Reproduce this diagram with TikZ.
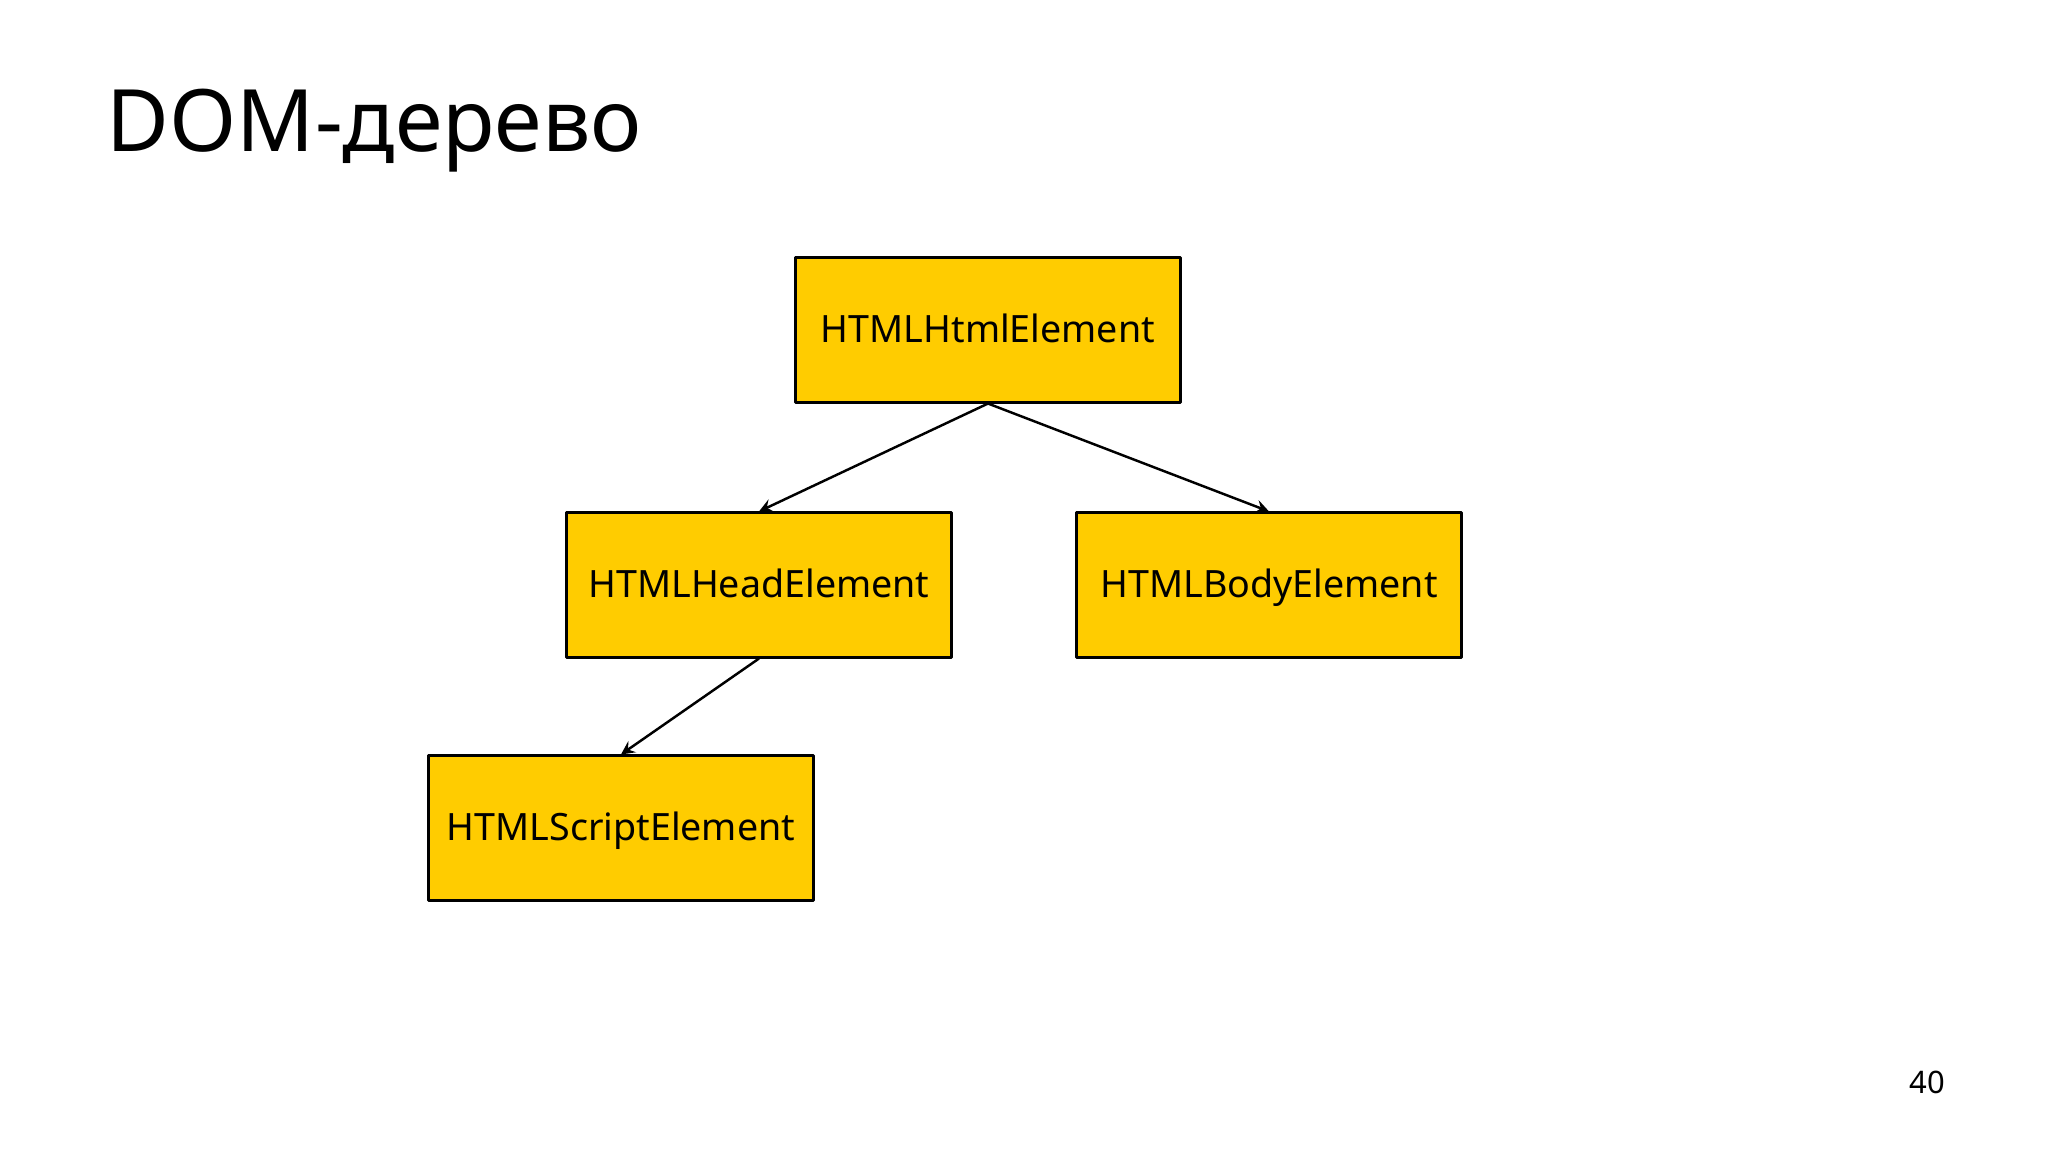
\documentclass[tikz,border=0pt]{standalone}
\usepackage{fontspec}
\setmainfont{Noto Sans}
\definecolor{boxyellow}{HTML}{FFCC00}
\tikzset{
  elem/.style={draw=black, line width=0.85pt, fill=boxyellow, minimum width=3.84cm, minimum height=1.44cm, inner sep=0pt, text height=0.72em, text depth=0pt, font=\fontsize{10.7}{13}\selectfont},
  link/.style={->, line width=0.7pt}
}
\begin{document}
\begin{tikzpicture}[>=stealth, x=0.01cm, y=-0.01cm, line join=round]
			\useasboundingbox (0,0) rectangle (2048,1152);
			\node[anchor=base west, inner sep=0pt, font=\fontsize{24.5}{30}\selectfont] (title) at (106,152) {DOM-дерево};
			\node (html) at (988,330) [elem]{HTMLHtmlElement};
			\node (head) at (759,585) [elem]{HTMLHeadElement};
			\node (body) at (1269,585) [elem]{HTMLBodyElement};
			\node (script) at (621,828) [elem]{HTMLScriptElement};
			\draw[link] (html.south)--(head.north);
			\draw[link] (html.south)--(body.north);
			\draw[link] (head.south)--(script.north);
			\node[anchor=base east, inner sep=0pt, font=\fontsize{8.8}{10}\selectfont] (page) at (1946,1093) {40};
		\end{tikzpicture}
\end{document}
